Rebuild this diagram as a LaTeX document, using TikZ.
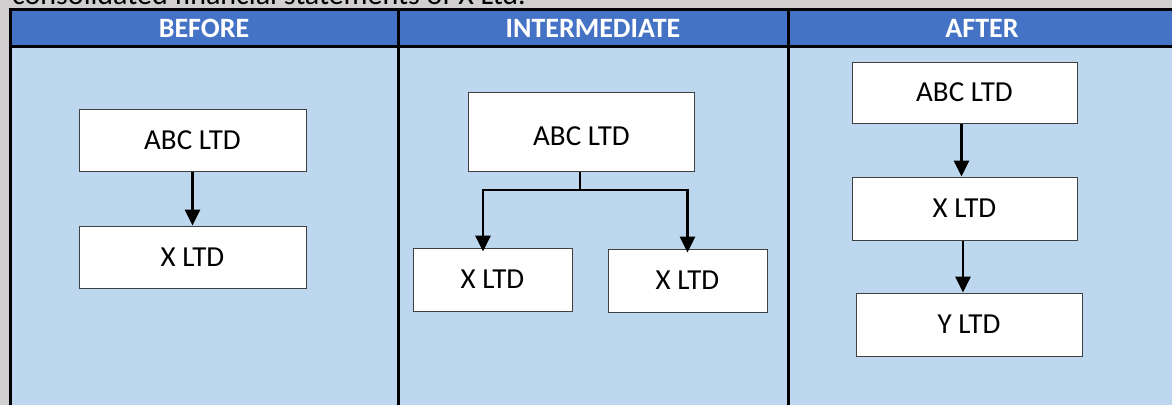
\documentclass[tikz,border=0pt]{standalone}
\usepackage{fontspec}
\setmainfont{Carlito}
\usetikzlibrary{arrows.meta,positioning}
\definecolor{page}{HTML}{D0CECE}
\definecolor{head}{HTML}{4472C4}
\definecolor{cell}{HTML}{BDD7EE}
\definecolor{rim}{HTML}{404040}

\begin{document}
\begin{tikzpicture}[x=1pt,y=-1pt,
  entity/.style={draw=rim,line width=1pt,fill=white,minimum width=227pt,minimum height=62pt,inner sep=0pt,font=\fontsize{29}{34}\selectfont},
  owns/.style={line width=2.7pt,-{Triangle[length=16pt,width=15pt]}},
  headtext/.style={text=white,font=\fontsize{28}{33}\selectfont\bfseries}]
  \clip (0,0) rectangle (1172,405);
  \fill[page] (0,0) rectangle (1172,405);

  % Caption, cut off at the top
  \node[anchor=base west,inner sep=0pt,font=\fontsize{30}{36}\selectfont] (caption) at (12,4) {consolidated financial statements of X Ltd.};

  % Table
  \fill[head] (10,9) rectangle (1172,46);
  \fill[cell] (10,46) rectangle (1172,405);
  \draw[line width=3pt] (1172,9) -- (10,9) -- (10,405);
  \draw[line width=3pt] (10,46) -- (1172,46);
  \draw[line width=3pt] (398,9) -- (398,405);
  \draw[line width=3pt] (788,9) -- (788,405);

  \node[headtext] (before) at (204,28) {BEFORE};
  \node[headtext] (inter) at (593,28) {INTERMEDIATE};
  \node[headtext] (after) at (982,28) {AFTER};

  % Before
  \node[entity] (abcB) at (192.5,140) {ABC LTD};
  \node[entity] (xB) at (192.5,257) {X LTD};
  \draw[owns] (abcB) -- (xB);

  % Intermediate
  \node[entity,minimum width=226pt,minimum height=79pt,text height=28pt] (abcI) at (581.5,131.5) {ABC LTD};
  \node[entity,minimum width=159pt,minimum height=63pt] (xI1) at (492.5,279.5) {X LTD};
  \node[entity,minimum width=159pt,minimum height=63pt] (xI2) at (687.5,280.5) {X LTD};
  \coordinate (fork) at (580,190);
  \draw[line width=2.7pt] (abcI.south -| fork) -- (fork);
  \draw[owns] (fork) -| ([xshift=-9.5pt,yshift=-4pt]xI1.north);
  \draw[owns] (fork) -| ([yshift=-4pt]xI2.north);

  % After
  \node[entity,minimum width=225pt,minimum height=61pt] (abcA) at (964.5,92.5) {ABC LTD};
  \node[entity,minimum width=225pt,minimum height=63pt] (xA) at (964.5,208.5) {X LTD};
  \node[entity,minimum width=226pt,minimum height=63pt] (yA) at (969,324.5) {Y LTD};
  \draw[owns] ([xshift=-3pt]abcA.south) -- ([xshift=-3pt]abcA.south |- xA.north);
  \draw[owns] ([xshift=-1.5pt]xA.south) -- ([xshift=-1.5pt]xA.south |- yA.north);
\end{tikzpicture}
\end{document}
